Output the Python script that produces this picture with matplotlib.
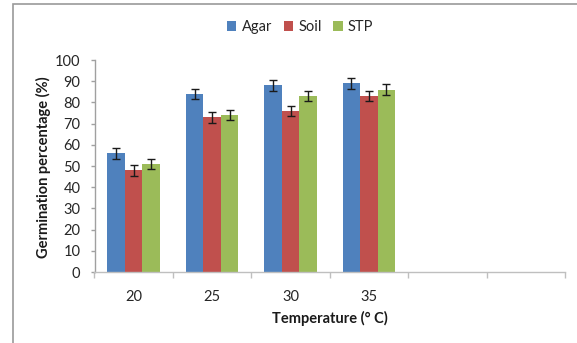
import matplotlib
matplotlib.use("Agg")
import matplotlib.pyplot as plt
from matplotlib.patches import Rectangle
import numpy as np

categories = ["20", "25", "30", "35", "", ""]
series_names = ["Agar", "Soil", "STP"]
agar = [56, 84, 88, 89]
soil = [48, 73, 76, 83]
stp = [51, 74, 83, 86]
agar_err = [2.5, 2.5, 2.5, 2.5]
soil_err = [2.5, 2.5, 2.5, 2.5]
stp_err = [2.5, 2.5, 2.5, 2.5]
colors = ["#4F81BD", "#C0504D", "#9BBB59"]

plt.rcParams['font.family'] = ['Lato', 'DejaVu Sans']

W, H = 577, 343
fig = plt.figure(figsize=(W / 100, H / 100), dpi=100)
ax = fig.add_axes([94.5 / W, 1 - 272 / H, (565 - 94.5) / W, (272 - 60) / H])

# chart border
fig.patches.append(Rectangle((12.5 / W, -0.1), 1.2, 1.1 - 4 / H, transform=fig.transFigure,
                             fill=False, edgecolor="#9a9a9a", linewidth=1.2, zorder=0))

n = len(categories)
bw = 0.223
x = np.arange(len(agar))
for i, (vals, errs, c, name) in enumerate(zip([agar, soil, stp], [agar_err, soil_err, stp_err], colors, series_names)):
    ax.bar(x + (i - 1) * bw, vals, width=bw, color=c, label=name, zorder=2)
    ax.errorbar(x + (i - 1) * bw, vals, yerr=errs, fmt='none', ecolor='#1a1a1a',
                elinewidth=1.0, capsize=3.2, capthick=1.0, zorder=3)

ax.set_xlim(-0.5, n - 0.5)
ax.set_ylim(0, 100)
ax.set_yticks(np.arange(0, 101, 10))
ax.set_xticks(np.arange(n))
ax.set_xticklabels(categories)
ax.set_xticks(np.arange(n + 1) - 0.5, minor=True)
ax.tick_params(axis='x', which='major', length=0, pad=13, labelsize=10.5, labelcolor="#262626")
ax.tick_params(axis='x', which='minor', length=4.5, width=1, color="#bfbfbf", direction='out')
ax.tick_params(axis='y', length=3.2, width=1, color="#a0a0a0", pad=7, labelsize=10.5, labelcolor="#262626")

for s in ['top', 'right']:
    ax.spines[s].set_visible(False)
ax.spines['left'].set_color("#a0a0a0")
ax.spines['bottom'].set_color("#bfbfbf")
ax.spines['left'].set_linewidth(1)
ax.spines['bottom'].set_linewidth(1)

fig.text(43 / W, 1 - 167 / H, "Germination percentage (%)", rotation=90, ha='center', va='center',
         fontsize=10.5, fontweight='bold', color='#1a1a1a')
fig.text(330 / W, 1 - 318 / H, "Temperature (° C)", ha='center', va='center',
         fontsize=10.5, fontweight='bold', color='#1a1a1a')

leg = fig.legend(loc='center', bbox_to_anchor=(300 / W, 1 - 27 / H), ncol=3, frameon=False,
                 fontsize=10.5, handlelength=0.65, handleheight=0.65, handletextpad=0.35,
                 columnspacing=0.8)
for t in leg.get_texts():
    t.set_color("#262626")

fig.savefig("out.png", dpi=100)
